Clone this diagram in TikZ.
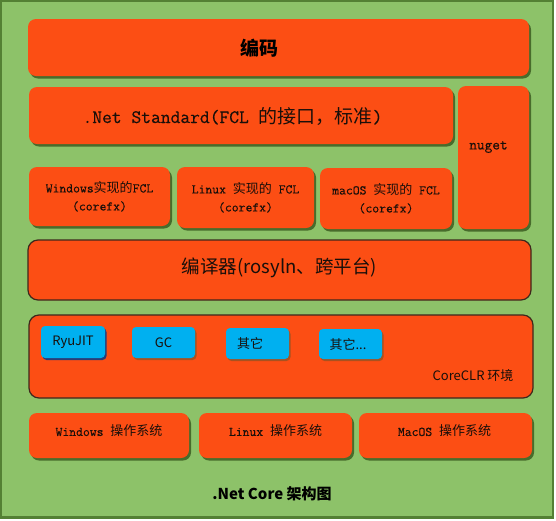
\documentclass[tikz,border=0pt]{standalone}
\usepackage{fontspec}
\usetikzlibrary{shadows}
\newfontfamily\mono{Latin Modern Mono}[FakeBold=0.35]
\newfontfamily\cjs{Noto Sans CJK SC}
\definecolor{bggreen}{RGB}{141,194,105}
\definecolor{bgborder}{RGB}{84,128,52}
\definecolor{orangebox}{RGB}{252,78,20}
\definecolor{shgreen}{RGB}{72,108,44}
\definecolor{darkline}{RGB}{62,40,28}
\definecolor{bluebox}{RGB}{0,176,240}
\definecolor{navysh}{RGB}{40,62,120}
\definecolor{brownsh}{RGB}{168,82,32}
\definecolor{txt}{RGB}{25,15,10}
\begin{document}
\begin{tikzpicture}[x=1pt,y=-1pt,
  box/.style={fill=orangebox, rounded corners=8pt, inner sep=0pt,
    drop shadow={shadow xshift=2pt,shadow yshift=-2.5pt,fill=shgreen,opacity=1}},
  outlined/.style={fill=orangebox, draw=darkline, line width=1.2pt, rounded corners=10pt, inner sep=0pt},
  bluebase/.style={fill=bluebox, rounded corners=4pt, inner sep=0pt, text=txt,
    font=\fontsize{13}{13}\selectfont\cjs},
  bluenavy/.style={bluebase, drop shadow={shadow xshift=1.5pt,shadow yshift=-2pt,fill=navysh,opacity=1}},
  bluebrown/.style={bluebase, drop shadow={shadow xshift=1.5pt,shadow yshift=-2pt,fill=brownsh,opacity=1}},
  smalltxt/.style={font=\fontsize{13.3}{18}\selectfont\mono, align=center, text=txt},
  bigtxt/.style={font=\fontsize{19}{20}\selectfont\mono, text=txt, inner sep=0pt},
  sanstxt/.style={font=\fontsize{13}{13}\selectfont\cjs, text=txt, inner sep=0pt}
]
\path[use as bounding box] (0,0) rectangle (556,520);
% background
\fill[bgborder] (0,0) rectangle (554,519);
\fill[bggreen] (1.5,1.5) rectangle (551.5,516);

% coding
\node[box, minimum width=501pt, minimum height=57pt] (code) at (278.5,47.5) {};
\node[font=\fontsize{19}{19}\selectfont\cjs\bfseries, text=black, inner sep=0pt] (codetxt) at (259.5,48) {编码};

% .Net Standard
\node[box, minimum width=424pt, minimum height=57pt] (netstd) at (241,115.5) {};
\node[bigtxt] (netstdtxt) at (232.5,116) {.Net Standard(FCL {\fontsize{19}{20}\selectfont\cjs 的接口，标准})};

% nuget
\node[box, minimum width=71pt, minimum height=143pt] (nuget) at (493.5,157.5) {};
\node[font=\fontsize{14.9}{15}\selectfont\mono, text=txt, inner sep=0pt] (nugettxt) at (488.5,147) {nuget};

% FCL implementations
\node[box, smalltxt, minimum width=141pt, minimum height=59pt] (winfcl) at (99.5,196.5)
  {Windows{\fontsize{13}{18}\selectfont\cjs 实现的}FCL\\(corefx)};
\node[box, smalltxt, minimum width=137pt, minimum height=61pt] (linfcl) at (245.5,197.5)
  {Linux {\fontsize{13}{18}\selectfont\cjs 实现的} FCL\\(corefx)};
\node[box, smalltxt, minimum width=132pt, minimum height=61pt] (macfcl) at (386,198.5)
  {macOS {\fontsize{13}{18}\selectfont\cjs 实现的} FCL\\(corefx)};

% compiler
\node[outlined, minimum width=503pt, minimum height=60pt] (compiler) at (279.5,270) {};
\node[font=\fontsize{18.5}{18.5}\selectfont\cjs, text=txt, inner sep=0pt] (compilertxt) at (279.5,268) {编译器(rosyln、跨平台)};

% CoreCLR
\node[outlined, minimum width=504pt, minimum height=83pt] (coreclr) at (281,356.5) {};
\node[bluenavy, minimum width=64pt, minimum height=32pt] (ryujit) at (73,342) {RyuJIT};
\node[bluebrown, minimum width=63pt, minimum height=31pt] (gc) at (163.5,342.5) {GC};
\node[bluebrown, minimum width=63pt, minimum height=31pt] (other1) at (257.5,343.5) {};
\node[sanstxt] (other1txt) at (250,343.5) {其它};
\node[bluebrown, minimum width=63pt, minimum height=30pt] (other2) at (350.5,344) {};
\node[sanstxt] (other2txt) at (348,344) {其它...};
\node[sanstxt] (coreclrtxt) at (473,376) {CoreCLR 环境};

% operating systems
\node[box, minimum width=160pt, minimum height=45pt] (winos) at (109,435.5) {};
\node[smalltxt, inner sep=0pt] (winostxt) at (109,431) {Windows {\fontsize{13}{18}\selectfont\cjs 操作系统}};
\node[box, minimum width=153pt, minimum height=45pt] (linos) at (275.5,435.5) {};
\node[smalltxt, inner sep=0pt] (linostxt) at (275.5,431) {Linux {\fontsize{13}{18}\selectfont\cjs 操作系统}};
\node[box, minimum width=173pt, minimum height=45pt] (macos) at (445.5,435.5) {};
\node[smalltxt, inner sep=0pt] (macostxt) at (444.5,431) {MacOS {\fontsize{13}{18}\selectfont\cjs 操作系统}};

% caption
\node[font=\fontsize{15}{15}\selectfont\cjs\bfseries, text=black, inner sep=0pt] (caption) at (272,494) {.Net Core 架构图};
\end{tikzpicture}
\end{document}
